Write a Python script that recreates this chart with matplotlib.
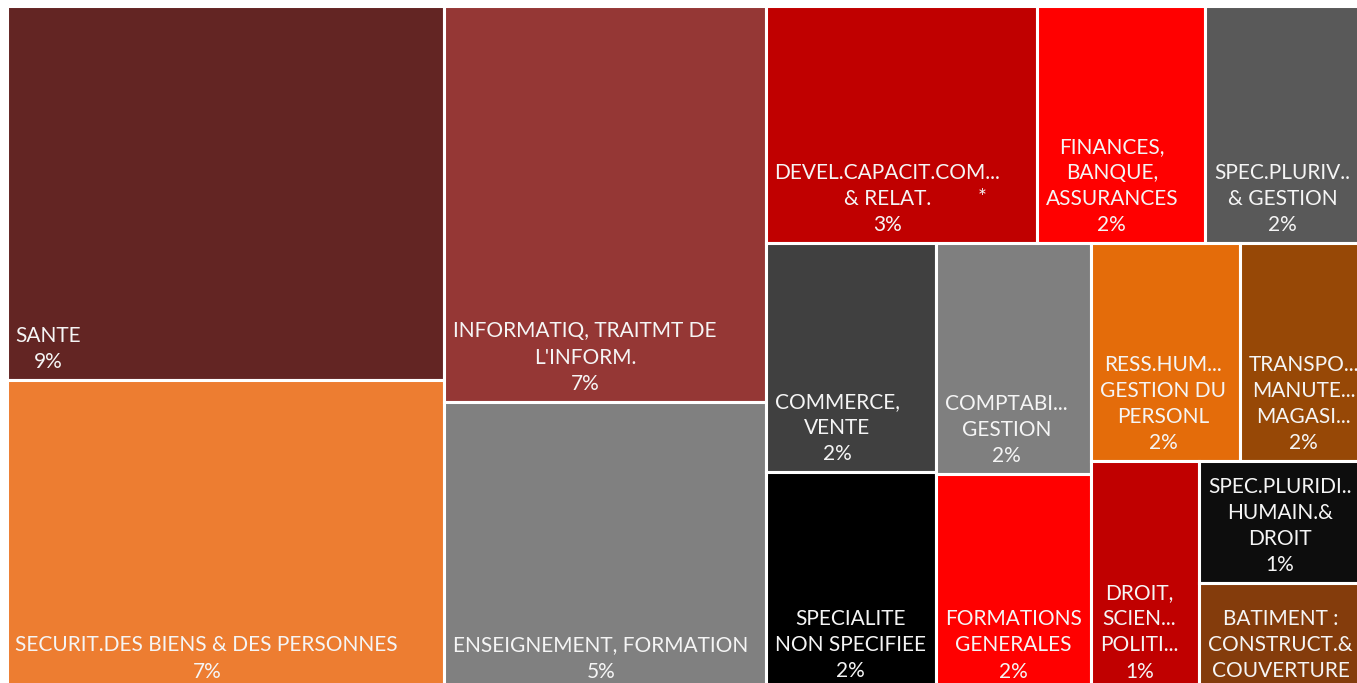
import matplotlib
matplotlib.use("Agg")
import matplotlib.pyplot as plt
from matplotlib.patches import Rectangle

# share of all trainees per training field (%), sorted from largest to smallest
fields = [
    "SANTE",
    "SECURIT.DES BIENS & DES PERSONNES",
    "INFORMATIQ, TRAITMT DE\nL'INFORM.",
    "ENSEIGNEMENT, FORMATION",
    "DEVEL.CAPACIT.COM...\n& RELAT.",
    "FINANCES,\nBANQUE,\nASSURANCES",
    "SPEC.PLURIV..\n& GESTION",
    "COMMERCE,\nVENTE",
    "SPECIALITE\nNON SPECIFIEE",
    "COMPTABI...\nGESTION",
    "FORMATIONS\nGENERALES",
    "RESS.HUM...\nGESTION DU\nPERSONL",
    "TRANSPO...\nMANUTE...\nMAGASI...",
    "DROIT,\nSCIEN...\nPOLITI...",
    "SPEC.PLURIDI..\nHUMAIN.&\nDROIT",
    "BATIMENT :\nCONSTRUCT.&\nCOUVERTURE",
]
shares = [8.77, 7.25, 6.81, 4.95, 3.45, 2.15, 2.14, 2.09,
          1.98, 1.91, 1.79, 1.73, 1.56, 1.32, 1.14, 0.99]
colors = ["#632523", "#ED7D31", "#953735", "#808080", "#C00000", "#FF0000",
          "#595959", "#404040", "#000000", "#7F7F7F", "#FF0000", "#E46C0A",
          "#974806", "#C00000", "#0D0D0D", "#843C0C"]
# field carrying a footnote mark
starred = "DEVEL.CAPACIT.COM...\n& RELAT."

# how many tiles go in each strip, and whether the strip is a column or a row
strips = [(2, "col"), (2, "col"), (3, "row"), (2, "col"), (2, "col"),
          (2, "row"), (1, "col"), (1, "row"), (1, "row")]


def strip_layout(vals, groups, x, y, w, h):
    rects = []
    total = sum(vals)
    i = 0
    for n, side in groups:
        part = vals[i:i + n]
        s = sum(part)
        if side == "col":
            t = w * s / total
            yy = y
            for v in part:
                hh = h * v / s
                rects.append((x, yy, t, hh))
                yy += hh
            x += t
            w -= t
        else:
            t = h * s / total
            xx = x
            for v in part:
                ww = w * v / s
                rects.append((xx, y, ww, t))
                xx += ww
            y += t
            h -= t
        total -= s
        i += n
    return rects


W, H = 1367, 684
fig = plt.figure(figsize=(13.57, 6.83), dpi=100)
ax = fig.add_axes([6.5 / 1357, -6.5 / 683, W / 1357, H / 683])
ax.set_xlim(0, W)
ax.set_ylim(H, 0)
ax.axis("off")

line_h = 27
txt = dict(color="#F5F5F5", fontsize=15, family="Lato")
for (x, y, w, h), name, v, c in zip(strip_layout(shares, strips, 0, 0, W, H),
                                    fields, shares, colors):
    box = Rectangle((x, y), w, h, facecolor=c, edgecolor="white", linewidth=2.2)
    ax.add_patch(box)
    label = name + "\n" + f"{v:.0f}%"
    # drop the value line when the label would not fit in the tile
    if (label.count("\n") + 1) * line_h > h - 6:
        label = name
    t = ax.text(x + 9, y + h - 8, label, ha="left", va="bottom",
                multialignment="center", linespacing=1.38, **txt)
    t.set_clip_path(box)
    if name == starred:
        ax.text(x + w * 0.8, y + h - 8 - line_h, "*", ha="center",
                va="bottom", **txt)

fig.savefig("out.png", dpi=100)
